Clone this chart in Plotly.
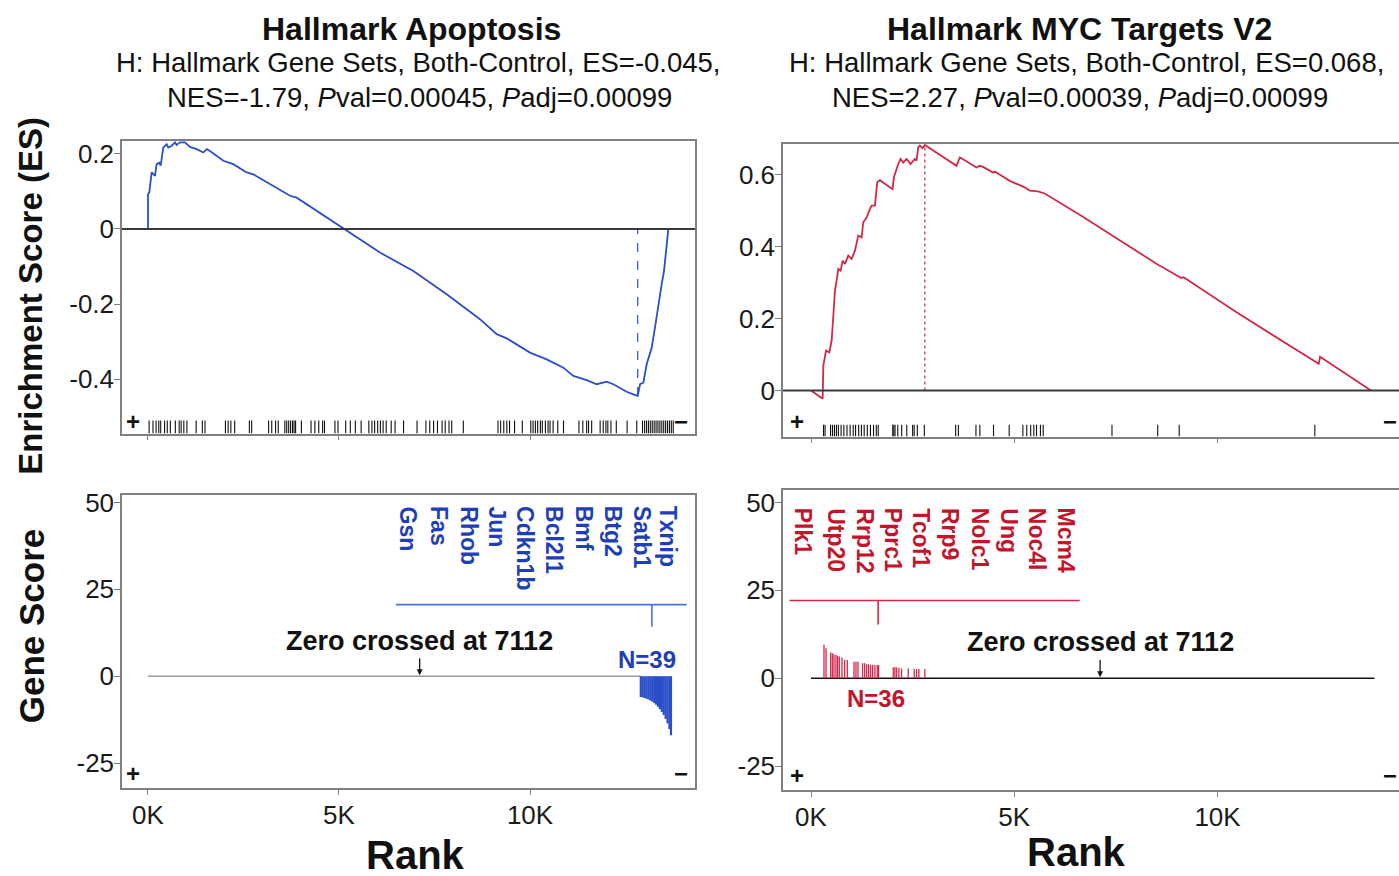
import plotly.graph_objects as go

W, H = 1399, 876
FONT = "Liberation Sans, Arial, sans-serif"
BLUE = "#2a4fc9"
BLUE_TXT = "#1f3fb8"
RED = "#d4284a"
RED_TXT = "#c4142c"
BOX = "#808080"

# ---------------- data ----------------
x_tick_vals = [0, 5000, 10000]
x_tick_text = ["0K", "5K", "10K"]

left_es_rank = [0, 0, 35, 96, 183, 227, 297, 332, 401, 489, 532, 620, 707, 750, 838, 969, 1099, 1274,
                1449, 1536, 1623, 1972, 2234, 2583, 2758, 3368, 3717, 3892, 5113, 6073, 6946, 7819,
                8691, 9128, 9390, 10000, 10437, 10873, 11134, 11484, 11745, 12007, 12181, 12531,
                12705, 12819, 12880, 12967, 13054, 13185, 13272, 13359, 13447, 13508, 13560, 13621]
left_es = [0, 0.092, 0.097, 0.150, 0.141, 0.172, 0.176, 0.168, 0.216, 0.225, 0.216, 0.221, 0.230,
           0.223, 0.230, 0.230, 0.218, 0.212, 0.203, 0.212, 0.207, 0.181, 0.172, 0.150, 0.145, 0.110,
           0.088, 0.083, 0.0, -0.063, -0.112, -0.174, -0.240, -0.280, -0.291, -0.329, -0.347, -0.369,
           -0.391, -0.402, -0.413, -0.406, -0.413, -0.433, -0.440, -0.444, -0.413, -0.409, -0.360,
           -0.316, -0.262, -0.200, -0.147, -0.112, -0.050, 0.0]

right_es_rank = [0, 287, 303, 369, 451, 508, 549, 590, 631, 672, 729, 778, 835, 917, 999, 1081, 1163,
                 1245, 1286, 1368, 1433, 1490, 1572, 1630, 1695, 2006, 2039, 2105, 2146, 2203, 2269,
                 2351, 2449, 2555, 2596, 2637, 2678, 2744, 2801, 3579, 3661, 3702, 4071, 4152, 4234,
                 4480, 4521, 4889, 5258, 5381, 5585, 5749, 6609, 8575, 8616, 9108, 9165, 10459,
                 12490, 12523, 13776]
right_es = [0, -0.023, 0.069, 0.111, 0.106, 0.139, 0.208, 0.278, 0.306, 0.338, 0.333, 0.361, 0.352,
            0.375, 0.366, 0.389, 0.431, 0.426, 0.468, 0.481, 0.500, 0.514, 0.514, 0.579, 0.585, 0.560,
            0.593, 0.620, 0.630, 0.644, 0.634, 0.644, 0.630, 0.644, 0.639, 0.676, 0.681, 0.674, 0.683,
            0.625, 0.648, 0.646, 0.620, 0.625, 0.622, 0.606, 0.609, 0.583, 0.565, 0.556, 0.554, 0.548,
            0.489, 0.347, 0.345, 0.313, 0.315, 0.218, 0.074, 0.094, 0.0]

left_hits = [30, 131, 212, 283, 333, 434, 505, 585, 716, 817, 868, 938, 1019, 1261, 1423, 1493, 2028,
             2099, 2169, 2270, 2654, 2714, 3158, 3239, 3340, 3410, 3582, 3632, 3683, 3733, 3784, 3824,
             3864, 4016, 4268, 4369, 4470, 4571, 4621, 4894, 4974, 5176, 5297, 5428, 5580, 5781, 5862,
             5933, 6013, 6084, 6155, 6236, 6367, 6468, 6690, 7043, 7275, 7376, 7477, 7578, 7699, 7780,
             7880, 7951, 8254, 9162, 9232, 9313, 9394, 9465, 9596, 9798, 10020, 10080, 10141, 10201,
             10272, 10322, 10403, 10473, 10524, 10605, 10726, 10877, 11281, 11382, 11483, 11533,
             11614, 11836, 11917, 11987, 12037, 12118, 12259, 12542, 12794, 12945, 13000, 13050,
             13100, 13150, 13200, 13250, 13300, 13350, 13400, 13450, 13500, 13550, 13600, 13650,
             13700, 13750]
right_hits = [308, 346, 481, 529, 577, 625, 673, 740, 808, 885, 962, 1038, 1096, 1173, 1240, 1308, 1385,
              1462, 1538, 1606, 1654, 2010, 2038, 2067, 2135, 2231, 2356, 2500, 2538, 2615, 2788, 3558,
              3625, 4058, 4154, 4490, 4875, 5212, 5308, 5404, 5481, 5548, 5644, 5712, 7404, 8529, 9058,
              12394]

left_bar_rank = [12900, 12950, 13000, 13050, 13100, 13150, 13200, 13250, 13300, 13350, 13400, 13450,
                 13500, 13550, 13600, 13650, 13690]
left_bar_score = [-6.0, -6.1, -6.3, -6.5, -6.7, -7.0, -7.3, -7.7, -8.2, -8.8, -9.5, -10.3, -11.2, -12.3,
                  -13.6, -15.2, -17.0]
right_bar_rank = [319, 369, 483, 524, 565, 614, 655, 696, 762, 827, 893, 1057, 1106, 1155, 1270, 1319,
                  1368, 1417, 1466, 1515, 1572, 1630, 1662, 2023, 2064, 2105, 2162, 2228, 2391, 2539,
                  2596, 2654, 2801]
right_bar_score = [9.5, 8.5, 7.3, 7.1, 6.8, 6.6, 6.4, 6.2, 5.9, 5.2, 5.2, 4.7, 4.7, 4.7, 4.3, 4.3, 4.0,
                   4.0, 3.8, 3.8, 3.8, 3.8, 3.8, 3.1, 3.1, 3.1, 3.0, 2.8, 2.8, 2.65, 2.65, 2.65, 2.65]

left_genes = ["Gsn", "Fas", "Rhob", "Jun", "Cdkn1b", "Bcl2l1", "Bmf", "Btg2", "Satb1", "Txnip"]
left_gene_pos = [6810, 7620, 8410, 9140, 9870, 10630, 11410, 12170, 12930, 13610]
right_genes = ["Plk1", "Utp20", "Rrp12", "Pprc1", "Tcof1", "Rrp9", "Nolc1", "Ung", "Noc4l", "Mcm4"]
right_gene_pos = [-190, 610, 1330, 2020, 2720, 3420, 4150, 4850, 5550, 6270]

# bracket: (x start, x end, y, tick x, tick bottom y)
left_bracket = (6490, 14100, 20.6, 13190, 14.2)
right_bracket = (-530, 6610, 22.1, 1650, 15.3)

zero_cross = 7112
n_left, n_right = 39, 36
total_ranked = 13860

titles = ["Hallmark Apoptosis", "Hallmark MYC Targets V2"]
sub1 = ["H: Hallmark Gene Sets, Both-Control, ES=-0.045,",
        "H: Hallmark Gene Sets, Both-Control, ES=0.068,"]
sub2 = ["NES=-1.79, <i>P</i>val=0.00045, <i>P</i>adj=0.00099",
        "NES=2.27, <i>P</i>val=0.00039, <i>P</i>adj=0.00099"]

# ---------------- figure ----------------
fig = go.Figure()


def Y(t):
    """pixel row (from top) -> paper fraction, with small calibration"""
    return 1 - ((t - 7) / 0.992) / H


ranges = {
    "x_left": [-680, 14319], "x_right": [-689, 14465],
    "y_tl": [-0.544, 0.234], "y_tr": [-0.128, 0.686],
    "y_bl": [-32.2, 52.0], "y_br": [-31.8, 53.4],
}


def segs(xs, y0s, y1s):
    X, Yy = [], []
    for x, a, b in zip(xs, y0s, y1s):
        X += [x, x, None]
        Yy += [a, b, None]
    return X, Yy


def add_line(x, y, xa, ya, color, width, dash="solid"):
    fig.add_trace(go.Scatter(x=x, y=y, mode="lines", xaxis=xa, yaxis=ya,
                             line=dict(color=color, width=width, dash=dash),
                             hoverinfo="skip", showlegend=False))


# --- top-left ES ---
add_line(left_es_rank, left_es, "x", "y", BLUE, 1.8)
imin = left_es.index(min(left_es))
add_line([left_es_rank[imin]] * 2, [left_es[imin], 0], "x", "y", BLUE, 1.2, "dash")
yb = ranges["y_tl"][0]
X, Yy = segs(left_hits, [yb] * len(left_hits), [yb + 0.0345] * len(left_hits))
add_line(X, Yy, "x", "y", "#111111", 1.1)

# --- top-right ES ---
add_line(right_es_rank, right_es, "x3", "y3", RED, 1.8)
imax = right_es.index(max(right_es))
add_line([right_es_rank[imax]] * 2, [0, right_es[imax]], "x3", "y3", RED, 1.2, "dot")
yb = ranges["y_tr"][0]
X, Yy = segs(right_hits, [yb] * len(right_hits), [yb + 0.033] * len(right_hits))
add_line(X, Yy, "x3", "y3", "#111111", 1.1)

# --- bottom-left gene scores ---
add_line([0, left_bar_rank[0]], [0, 0], "x2", "y2", "#9a9a9a", 1.4)
X, Yy = segs(left_bar_rank, [0] * len(left_bar_rank), left_bar_score)
add_line(X, Yy, "x2", "y2", BLUE, 2.2)
bx0, bx1, by, btx, bty = left_bracket
add_line([bx0, bx1], [by, by], "x2", "y2", "#4a72d6", 1.6)
add_line([btx, btx], [by, bty], "x2", "y2", "#4a72d6", 1.6)

# --- bottom-right gene scores ---
add_line([0, total_ranked], [0, 0], "x4", "y4", "#111111", 1.6)
X, Yy = segs(right_bar_rank, [0] * len(right_bar_rank), right_bar_score)
add_line(X, Yy, "x4", "y4", RED, 1.3)
bx0, bx1, by, btx, bty = right_bracket
add_line([bx0, bx1], [by, by], "x4", "y4", RED, 1.6)
add_line([btx, btx], [by, bty], "x4", "y4", RED, 1.6)

# ---------------- axes ----------------
tickfont = dict(family=FONT, size=26, color="#1a1a1a")


def xaxis(domain, rng, anchor, labels):
    return dict(domain=domain, range=rng, anchor=anchor, showline=True, linecolor=BOX, linewidth=1.5,
                mirror=True, ticks="outside", ticklen=5, tickcolor=BOX, tickwidth=1.2,
                tickvals=x_tick_vals, ticktext=x_tick_text, showticklabels=labels,
                showgrid=False, zeroline=False, tickfont=tickfont, ticklabelstandoff=-2)


def yaxis(domain, rng, anchor, vals, texts, mirror):
    return dict(domain=domain, range=rng, anchor=anchor, showline=True, linecolor=BOX, linewidth=1.5,
                mirror=mirror, ticks="outside", ticklen=6, tickcolor=BOX, tickwidth=1.2,
                tickvals=vals, ticktext=texts, showgrid=False, zeroline=False, tickfont=tickfont,
                ticklabelstandoff=-5)


xl = [122 / W, 695 / W]
xr = [783 / W, 1.0]
fig.update_layout(
    xaxis=xaxis(xl, ranges["x_left"], "y", False),
    yaxis=yaxis([Y(433), Y(140)], ranges["y_tl"], "x",
                [-0.4, -0.2, 0, 0.2], ["-0.4", "-0.2", "0", "0.2"], True),
    xaxis2=xaxis(xl, ranges["x_left"], "y2", True),
    yaxis2=yaxis([Y(788), Y(495)], ranges["y_bl"], "x2",
                 [-25, 0, 25, 50], ["-25", "0", "25", "50"], True),
    xaxis3=xaxis(xr, ranges["x_right"], "y3", False),
    yaxis3=yaxis([Y(436), Y(143)], ranges["y_tr"], "x3",
                 [0, 0.2, 0.4, 0.6], ["0", "0.2", "0.4", "0.6"], False),
    xaxis4=xaxis(xr, ranges["x_right"], "y4", True),
    yaxis4=yaxis([Y(790), Y(490)], ranges["y_br"], "x4",
                 [-25, 0, 25, 50], ["-25", "0", "25", "50"], False),
)

# zero lines in ES panels
for xr_, yr_ in [("x domain", "y"), ("x3 domain", "y3")]:
    fig.add_shape(type="line", xref=xr_, yref=yr_, x0=0, x1=1, y0=0, y1=0,
                  line=dict(color="#3a3a3a", width=2))

# ---------------- annotations ----------------
ann = []


def txt(text, x, y, size, bold=False, color="#111111", **kw):
    t = f"<b>{text}</b>" if bold else text
    d = dict(text=t, x=x, y=y, showarrow=False, font=dict(family=FONT, size=size, color=color))
    d.setdefault("xref", "paper")
    d.setdefault("yref", "paper")
    d.update(kw)
    ann.append(d)


# titles
for i, cx in enumerate([411, 1079]):
    txt(titles[i], cx / W, Y(28), 32, bold=True, xanchor="center", yanchor="middle")
for i, cx in enumerate([418, 1086]):
    txt(sub1[i], cx / W, Y(62), 27.5, xanchor="center", yanchor="middle")
for i, cx in enumerate([420, 1080]):
    txt(sub2[i], cx / W, Y(97), 27.5, xanchor="center", yanchor="middle")

# axis titles
txt("Enrichment Score (ES)", 31 / W, Y(295), 33, bold=True, textangle=-90,
    xanchor="center", yanchor="middle")
txt("Gene Score", 31 / W, Y(626), 35, bold=True, textangle=-90, xanchor="center", yanchor="middle")
txt("Rank", 415 / W, Y(855), 40, bold=True, xanchor="center", yanchor="middle")
txt("Rank", 1076 / W, Y(852), 40, bold=True, xanchor="center", yanchor="middle")

# gene labels
for g, p in zip(left_genes, left_gene_pos):
    txt(g, p, 49.5, 23, bold=True, color=BLUE_TXT, xref="x2", yref="y2", textangle=90,
        xanchor="center", yanchor="top")
for g, p in zip(right_genes, right_gene_pos):
    txt(g, p, 49.0, 23, bold=True, color=RED_TXT, xref="x4", yref="y4", textangle=90,
        xanchor="center", yanchor="top")

# zero crossing
for xa, ya in [("x2", "y2"), ("x4", "y4")]:
    txt(f"Zero crossed at {zero_cross}", zero_cross, 10.2, 27, bold=True, xref=xa, yref=ya,
        xanchor="center", yanchor="middle")
    ann.append(dict(x=zero_cross, y=0.3, xref=xa, yref=ya, ax=zero_cross, ay=5.6, axref=xa, ayref=ya,
                    text="", showarrow=True, arrowhead=2, arrowsize=0.9, arrowwidth=1.3,
                    arrowcolor="#111111"))

txt(f"N={n_left}", 13060, 4.9, 24, bold=True, color=BLUE_TXT, xref="x2", yref="y2",
    xanchor="center", yanchor="middle")
txt(f"N={n_right}", 1610, -5.8, 24, bold=True, color=RED_TXT, xref="x4", yref="y4",
    xanchor="center", yanchor="middle")

# + / - markers
for xa, ya, xp, xm, yv in [("x", "y", 0.019, 0.976, 0.042), ("x2", "y2", 0.019, 0.976, 0.05),
                           ("x3", "y3", 0.023, 0.986, 0.05), ("x4", "y4", 0.023, 0.986, 0.05)]:
    txt("+", xp, yv, 24, bold=True, xref=f"{xa} domain", yref=f"{ya} domain",
        xanchor="center", yanchor="middle")
    txt("\u2212", xm, yv, 24, bold=True, xref=f"{xa} domain", yref=f"{ya} domain",
        xanchor="center", yanchor="middle")

fig.update_layout(annotations=ann, width=W, height=H, margin=dict(l=0, r=0, t=0, b=0),
                  paper_bgcolor="white", plot_bgcolor="white", showlegend=False,
                  font=dict(family=FONT))

fig.write_html("out.html", config={"displayModeBar": False})
